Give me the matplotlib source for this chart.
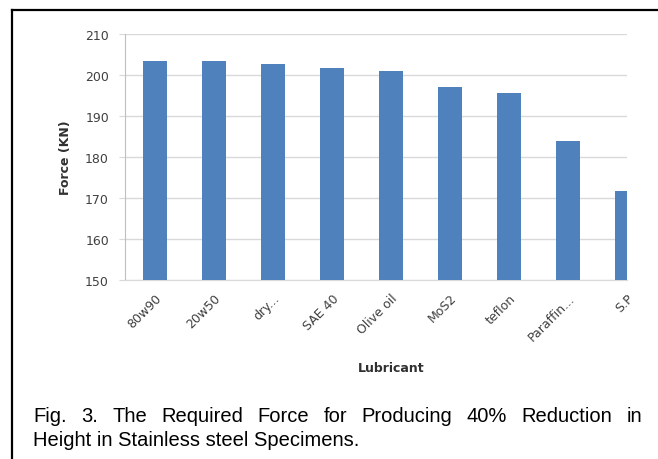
import matplotlib
matplotlib.use('Agg')
import matplotlib.pyplot as plt
from matplotlib.lines import Line2D

# Données
lubricants = ['80w90', '20w50', 'dry...', 'SAE 40', 'Olive oil', 'MoS2', 'teflon', 'Paraffin...', 'S.P']
force = [203.4, 203.4, 202.6, 201.7, 200.9, 197.1, 195.6, 183.9, 171.6]
yticks = [150, 160, 170, 180, 190, 200, 210]
caption_1 = 'Fig. 3. The Required Force for Producing 40% Reduction in'
caption_2 = 'Height in Stainless steel Specimens.'

W, H = 658, 460
fig = plt.figure(figsize=(W / 100, H / 100), dpi=100)
ax = fig.add_axes([125 / W, 1 - 281 / H, 502 / W, 246 / H])

x = list(range(len(lubricants)))
ax.bar(x, force, width=0.41, color='#4f81bd', zorder=3)
ax.set_xlim(-0.51, 8.0)
ax.set_ylim(150, 210)
ax.set_yticks(yticks)
ax.grid(axis='y', color='#d9d9d9', linewidth=1, zorder=0)
ax.set_xticks(x)
ax.set_xticklabels(lubricants, rotation=45, ha='right', rotation_mode='anchor',
                   fontsize=9, color='#404040')
ax.tick_params(axis='x', length=0, pad=8)
ax.tick_params(axis='y', length=4.5, color='#d9d9d9', labelsize=9, labelcolor='#404040', pad=7)
for s in ['top', 'right']:
    ax.spines[s].set_visible(False)
ax.spines['left'].set_color('#bfbfbf')
ax.spines['bottom'].set_color('#d9d9d9')
ax.set_ylabel('Force (KN)', fontsize=9, fontweight='bold', color='#303030')
ax.yaxis.set_label_coords(-0.106, 0.5)
ax.set_xlabel('Lubricant', fontsize=9, fontweight='bold', color='#303030')
ax.xaxis.set_label_coords(0.53, -0.329)

# Cadre
fig.add_artist(Line2D([12 / W, 1.0], [1 - 11 / H] * 2, color='black', linewidth=1.6))
fig.add_artist(Line2D([12 / W] * 2, [0.0, 1 - 11 / H], color='black', linewidth=1.6))

# Légende de la figure, première ligne justifiée
x0, x1 = 33 / W, 642 / W
y1, y2 = 1 - 422 / H, 1 - 446 / H
cap_font = dict(fontsize=14.5, family='Liberation Sans', color='black', va='baseline')
words = caption_1.split(' ')
texts = [fig.text(0, y1, w, **cap_font) for w in words]
renderer = fig.canvas.get_renderer()
widths = [t.get_window_extent(renderer).width / W for t in texts]
gap = (x1 - x0 - sum(widths)) / (len(words) - 1)
pos = x0
for t, w in zip(texts, widths):
    t.set_x(pos)
    pos += w + gap
fig.text(x0, y2, caption_2, **cap_font)

fig.savefig('out.png', dpi=100)
